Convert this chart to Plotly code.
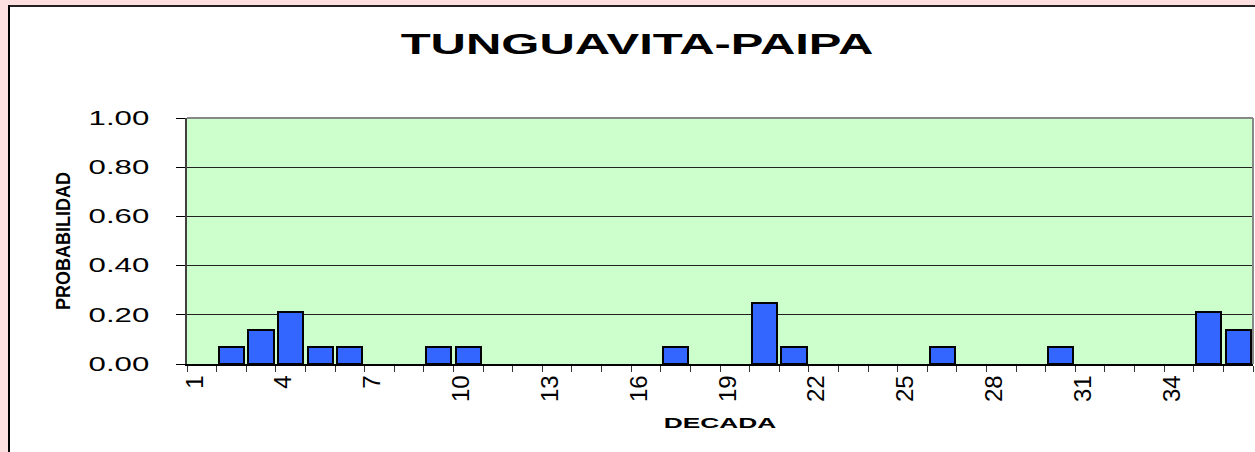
import plotly.graph_objects as go

# ---- data ----
decadas = list(range(1, 37))
probabilidad = [0, 0.07, 0.14, 0.21, 0.07, 0.07, 0, 0, 0.07, 0.07,
                0, 0, 0, 0, 0, 0, 0.07, 0, 0, 0.25,
                0.07, 0, 0, 0, 0, 0.07, 0, 0, 0, 0.07,
                0, 0, 0, 0, 0.21, 0.14]
x_tick_vals = decadas[::3]
x_tick_text = [str(v) for v in x_tick_vals]
titulo = "TUNGUAVITA-PAIPA"
x_titulo = "DECADA"
y_titulo = "PROBABILIDAD"

W, H = 1255, 452
ML, MR, MT, MB = 187, 2, 118, 88
PW, PH = W - ML - MR, H - MT - MB


def px_x(px):
    return (px - ML) / PW


def px_y(py):
    return 1 - (py - MT) / PH


boundaries = [v - 0.5 for v in decadas] + [decadas[-1] + 0.5]
xrange_ = [decadas[0] - 0.5, decadas[-1] + 0.5]
outline_w = [2 if v > 0 else 0 for v in probabilidad]

fig = go.Figure()
fig.add_trace(go.Bar(
    x=decadas, y=probabilidad, width=0.85,
    marker=dict(color="#3366FF", line=dict(color="#000000", width=outline_w)),
    hoverinfo="x+y",
))

font_main = "Liberation Sans, Arial, sans-serif"

fig.update_layout(
    width=W, height=H,
    margin=dict(l=ML, r=MR, t=MT, b=MB, pad=0),
    paper_bgcolor="#FFFFFF",
    plot_bgcolor="#CCFFCC",
    showlegend=False,
    bargap=0,
    title=dict(text=titulo, x=637 / W, xanchor="center", y=1 - 44 / H, yanchor="middle",
               font=dict(family=font_main, size=29, color="#000000", weight="bold")),
    xaxis=dict(
        range=xrange_, tickmode="array", tickvals=x_tick_vals, ticktext=x_tick_text,
        tickangle=-90, ticks="", ticklabelshift=-7,
        tickfont=dict(family=font_main, size=24, color="#000000"),
        showline=True, linecolor="#000000", linewidth=1.5,
        showgrid=False, zeroline=False,
        minor=dict(tickmode="array", tickvals=boundaries, ticks="outside", ticklen=6,
                   tickcolor="#333333", tickwidth=1, showgrid=False),
        title=dict(text=x_titulo, standoff=17,
                   font=dict(family=font_main, size=14, color="#000000", weight="bold")),
    ),
    xaxis2=dict(
        overlaying="x", anchor="y", side="bottom", range=xrange_,
        tickmode="array", tickvals=boundaries, ticks="inside", ticklen=6,
        tickcolor="#333333", tickwidth=1, showticklabels=False,
        showgrid=False, zeroline=False, showline=False,
    ),
    yaxis=dict(
        range=[0, 1], tickmode="linear", tick0=0, dtick=0.2, tickformat=".2f",
        ticks="outside", ticklen=9, tickcolor="#000000", ticklabelstandoff=23,
        tickfont=dict(family=font_main, size=19.5, color="#000000"),
        showline=True, linecolor="#404040", linewidth=1.5,
        showgrid=True, gridcolor="#222222", gridwidth=1, zeroline=False,
        title=dict(text=y_titulo, standoff=37,
                   font=dict(family=font_main, size=18, color="#000000", weight="bold")),
    ),
    shapes=[
        # pink outer strips
        dict(type="rect", xref="paper", yref="paper", x0=px_x(0), x1=px_x(W), y0=px_y(0), y1=px_y(5),
             fillcolor="#FFE0E0", line=dict(width=0), layer="below"),
        dict(type="rect", xref="paper", yref="paper", x0=px_x(0), x1=px_x(8), y0=px_y(0), y1=px_y(H),
             fillcolor="#FFE0E0", line=dict(width=0), layer="below"),
        # chart-area frame
        dict(type="line", xref="paper", yref="paper", x0=px_x(8), x1=px_x(W), y0=px_y(6), y1=px_y(6),
             line=dict(color="#222222", width=2), layer="above"),
        dict(type="line", xref="paper", yref="paper", x0=px_x(9), x1=px_x(9), y0=px_y(5), y1=px_y(H),
             line=dict(color="#000000", width=2), layer="above"),
        # plot area gray border (top / right)
        dict(type="line", xref="x domain", yref="y domain", x0=0, x1=1, y0=1, y1=1,
             line=dict(color="#888888", width=2), layer="above"),
        dict(type="line", xref="x domain", yref="y domain", x0=1, x1=1, y0=0, y1=1,
             line=dict(color="#888888", width=2), layer="above"),
    ],
)

post = """
(function(){
  document.documentElement.style.margin = '0';
  document.body.style.margin = '0';
  document.body.style.padding = '0';
  var gd = document.getElementsByClassName('plotly-graph-div')[0];
  function stretch(el, s, anchor){
    var b = el.getBoundingClientRect();
    if (!b.width) return;
    var cx = anchor === 'end' ? b.right : (b.left + b.right) / 2;
    var cy = (b.top + b.bottom) / 2;
    var svg = el.ownerSVGElement;
    var m = el.parentNode.getScreenCTM().inverse();
    var p = svg.createSVGPoint(); p.x = cx; p.y = cy;
    var q = p.matrixTransform(m);
    var t = el.getAttribute('transform') || '';
    el.setAttribute('transform', 'translate(' + q.x + ',' + q.y + ') scale(' + s + ',1) translate(' + (-q.x) + ',' + (-q.y) + ') ' + t);
  }
  gd.querySelectorAll('text.gtitle').forEach(function(e){ stretch(e, 1.69, 'middle'); });
  gd.querySelectorAll('g.ytick text').forEach(function(e){ stretch(e, 1.6, 'end'); });
  gd.querySelectorAll('text.xtitle').forEach(function(e){ stretch(e, 1.88, 'middle'); });
  gd.querySelectorAll('text.ytitle').forEach(function(e){ stretch(e, 1.17, 'middle'); });
})();
"""

fig.write_html("out.html", post_script=post, config={"displayModeBar": False})
